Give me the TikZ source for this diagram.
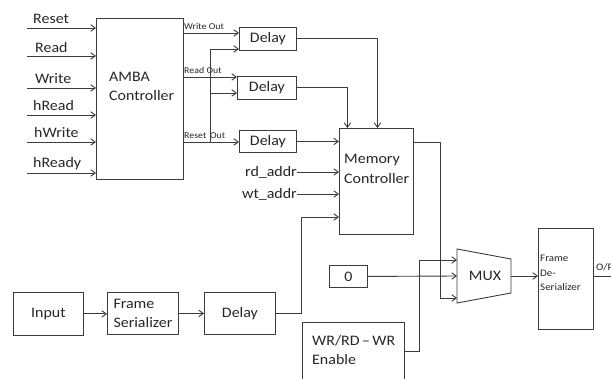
\documentclass[tikz,border=0pt]{standalone}
\usepackage{fontspec}
\setmainfont{Carlito}[FakeStretch=1.1]
\usetikzlibrary{arrows.meta}
\definecolor{linie}{HTML}{3C3C3C}
\definecolor{schrift}{HTML}{262626}
\newcommand{\gross}{\fontsize{14.5}{19.5}\selectfont}
\newcommand{\mittel}{\fontsize{10}{14.5}\selectfont}
\newcommand{\klein}{\fontsize{9}{10}\selectfont}
\tikzset{
  block/.style={draw=linie,line width=0.9pt,inner sep=0pt,anchor=north west,text=schrift,font=\gross},
  sig/.style={-{Straight Barb[length=4.5pt,width=6.5pt]},linie,line width=0.9pt},
  wire/.style={linie,line width=0.9pt},
  txt/.style={text=schrift,font=\gross,inner sep=0pt},
  tag/.style={text=schrift,font=\klein,inner sep=0pt,anchor=base west},
}

\begin{document}
\begin{tikzpicture}[x=1pt,y=-1pt]
  \useasboundingbox (0,0) rectangle (611,379);
  % blocks
  \node[block,minimum width=87,minimum height=161] (amba) at (96,18) {};
  \node[txt,anchor=north west,align=left] (ambatxt) at (109,72) {AMBA\\Controller};
  \node[block,minimum width=57,minimum height=23] (d1) at (239,27) {Delay};
  \node[block,minimum width=59,minimum height=23] (d2) at (237,76) {Delay};
  \node[block,minimum width=57,minimum height=22] (d3) at (239,130) {Delay};
  \node[block,minimum width=74,minimum height=106] (mem) at (339,128) {};
  \node[txt,anchor=north west,align=left] (memtxt) at (344,154) {Memory\\Controller};
  \node[block,minimum width=38,minimum height=22] (zero) at (329,265) {0};
  \draw[wire] (457,249) -- (511,259) -- (511,293) -- (457,303) -- cycle;
  \node[txt] (mux) at (485,276) {MUX};
  \node[block,minimum width=55,minimum height=101] (fds) at (538,228) {};
  \node[txt,font=\mittel,anchor=west,align=left] (fdstxt) at (540,273) {Frame\\De-\\Serializer};
  \node[block,minimum width=102,minimum height=70] (wr) at (302,322) {};
  \node[txt,anchor=north west,align=left] (wrtxt) at (312,335) {WR/RD\,--\,WR\\Enable};
  \node[block,minimum width=70,minimum height=43] (inp) at (13,292) {Input};
  \node[block,minimum width=71,minimum height=42,align=left] (fs) at (107,292) {Frame\\Serializer};
  \node[block,minimum width=71,minimum height=42] (d4) at (204,292) {Delay};
  % inputs of the AMBA controller
  \coordinate (iReset) at (27,28);
  \coordinate (iRead) at (27,56);
  \coordinate (iWrite) at (27,88);
  \coordinate (ihRead) at (27,115);
  \coordinate (ihWrite) at (27,142);
  \coordinate (ihReady) at (27,173);
  \node[txt,anchor=base west] (lReset) at (33,24) {Reset};
  \node[txt,anchor=base west] (lRead) at (35,53) {Read};
  \node[txt,anchor=base west] (lWrite) at (35,84) {Write};
  \node[txt,anchor=base west] (lhRead) at (33,111) {hRead};
  \node[txt,anchor=base west] (lhWrite) at (34,138) {hWrite};
  \node[txt,anchor=base west] (lhReady) at (33,168) {hReady};
  \draw[sig] (iReset) -- (iReset -| amba.west);
  \draw[sig] (iRead) -- (iRead -| amba.west);
  \draw[sig] (iWrite) -- (iWrite -| amba.west);
  \draw[sig] (ihRead) -- (ihRead -| amba.west);
  \draw[sig] (ihWrite) -- (ihWrite -| amba.west);
  \draw[sig] (ihReady) -- (ihReady -| amba.west);
  % outputs to the delays
  \coordinate (oWrite) at (183,33);
  \coordinate (oRead) at (183,77);
  \coordinate (oReset) at (183,142);
  \draw[sig] (oWrite) -- (oWrite -| d1.west);
  \draw[sig] (oRead) -- (oRead -| d2.west);
  \draw[sig] (oReset) -- (oReset -| d3.west);
  \node[tag] (lwo) at (184,30) {Write Out};
  \node[tag] (lro) at (184,74) {Read Out};
  \node[tag] (lrs) at (184,138.5) {Reset\, Out};
  \coordinate (br) at (210,142);
  \coordinate (b1) at (210,49);
  \coordinate (b2) at (210,93);
  \draw[wire] (br) -- (b1);
  \draw[sig] (b1) -- (b1 -| d1.west);
  \draw[sig] (b2) -- (b2 -| d2.west);
  % into the memory controller
  \draw[sig] (d1.east) -| ([xshift=1]mem.north);
  \draw[sig] (d2.east) -| ([xshift=-29]mem.north);
  \draw[sig] (d3.east) -- (d3.east -| mem.west);
  \node[txt,anchor=east] (rd) at (297,172) {rd\_addr};
  \node[txt,anchor=east] (wt) at (297,194) {wt\_addr};
  \draw[sig] (rd.east) -- (rd.east -| mem.west);
  \draw[sig] (wt.east) -- (wt.east -| mem.west);
  \coordinate (j4) at (301,217);
  \draw[sig] (d4.east) -| (j4) -- (j4 -| mem.west);
  % multiplexer
  \coordinate (mux1) at (457,260);
  \coordinate (mux2) at (457,276);
  \coordinate (mux3) at (457,298);
  \coordinate (muxout) at (511,276);
  \coordinate (j5) at (440,142);
  \draw[sig] (mem.east |- j5) -- (j5) |- (mux3);
  \draw[sig] (zero.east) -- (mux2);
  \coordinate (j6) at (419,351);
  \draw[sig] (wr.east |- j6) -- (j6) |- (mux1);
  \draw[sig] (muxout) -- (muxout -| fds.west);
  \coordinate (op) at (620,276);
  \draw[wire] (fds.east |- op) -- (op);
  \node[txt,font=\mittel,anchor=base west] (optxt) at (596,271) {O/P};
  % bottom chain
  \draw[sig] (inp.east) -- (inp.east -| fs.west);
  \draw[sig] (fs.east) -- (fs.east -| d4.west);
\end{tikzpicture}
\end{document}
